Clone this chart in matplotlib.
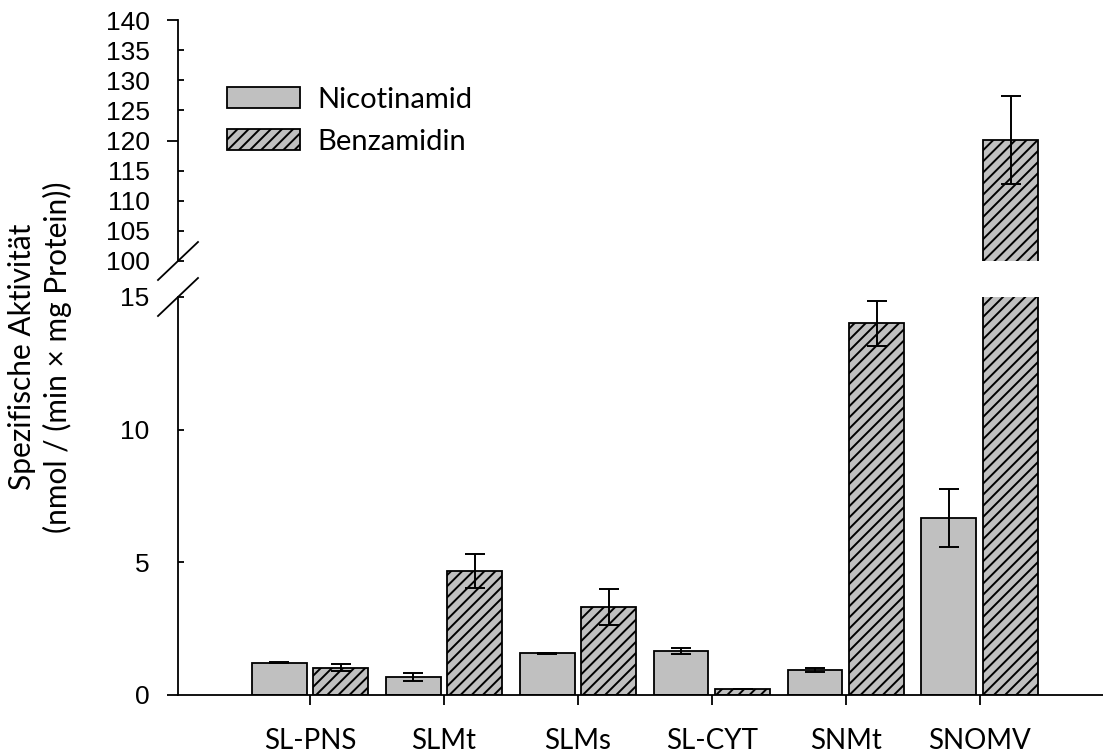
import numpy as np
import matplotlib
matplotlib.use("Agg")
import matplotlib.pyplot as plt
from matplotlib.patches import Patch

# Daten
kategorien = ["SL-PNS", "SLMt", "SLMs", "SL-CYT", "SNMt", "SNOMV"]
nicotinamid = [1.22, 0.69, 1.57, 1.66, 0.94, 6.68]
nicotinamid_err = [0.03, 0.15, 0.03, 0.11, 0.06, 1.10]
benzamidin = [1.02, 4.67, 3.30, 0.23, 14.01, 120.1]
benzamidin_err = [0.13, 0.65, 0.68, 0.0, 0.85, 7.3]

oben_ticks_major = [120, 140]
oben_ticks_minor = [100, 105, 110, 115, 125, 130, 135]
unten_ticks_major = [0]
unten_ticks_minor = [5, 10, 15]

grau = "#c0c0c0"
plt.rcParams["hatch.linewidth"] = 1.4
tick_font = "Liberation Sans"
text_font = "Lato"

fig = plt.figure(figsize=(11.03, 7.55), dpi=100)
W, H = 1103, 755
ax_lo = fig.add_axes([178 / W, 1 - 695 / H, (W - 178) / W, (695 - 297) / H])
ax_hi = fig.add_axes([178 / W, 1 - 261 / H, (W - 178) / W, (261 - 20) / H])

x = np.arange(len(kategorien))
breite = 0.41
versatz = 0.23

for ax in (ax_lo, ax_hi):
    ax.bar(x - versatz, nicotinamid, breite, color=grau, edgecolor="black",
           linewidth=1.3, zorder=2)
    ax.bar(x + versatz, benzamidin, breite, color=grau, edgecolor="black",
           linewidth=1.3, hatch="///", zorder=2)
    ax.errorbar(x - versatz, nicotinamid, yerr=nicotinamid_err, fmt="none",
                ecolor="black", elinewidth=1.4, capsize=7.5, capthick=1.4, zorder=3)
    ax.errorbar(x + versatz, benzamidin, yerr=benzamidin_err, fmt="none",
                ecolor="black", elinewidth=1.4, capsize=7.5, capthick=1.4, zorder=3)
    ax.set_xlim(-0.985, 5.92)
    ax.spines["top"].set_visible(False)
    ax.spines["right"].set_visible(False)
    ax.spines["left"].set_linewidth(1.3)
    ax.spines["bottom"].set_linewidth(1.3)
    ax.patch.set_alpha(0)

ax_lo.set_ylim(0, 15)
ax_hi.set_ylim(100, 140)
ax_hi.spines["bottom"].set_visible(False)
ax_hi.tick_params(axis="x", bottom=False, labelbottom=False)

# y ticks: major nach aussen, minor nach innen, alle beschriftet
for ax, maj, mino in ((ax_lo, unten_ticks_major, unten_ticks_minor),
                      (ax_hi, oben_ticks_major, oben_ticks_minor)):
    ax.set_yticks(maj, [str(v) for v in maj])
    ax.set_yticks(mino, [str(v) for v in mino], minor=True)
    ax.tick_params(axis="y", which="major", direction="out", length=8, width=1.3,
                   pad=12.5, labelsize=19)
    ax.tick_params(axis="y", which="minor", direction="in", length=4.3, width=1.3,
                   pad=20.5, labelsize=19)
    for lab in ax.get_yticklabels(which="both"):
        lab.set_fontfamily(tick_font)

ax_lo.set_xticks(x, kategorien)
ax_lo.tick_params(axis="x", direction="out", length=7.5, width=1.3, pad=16,
                  labelsize=20)
for lab in ax_lo.get_xticklabels():
    lab.set_fontfamily(text_font)

# Achsenbruch-Markierungen
dx = 20 / (W - 178)
dy_hi = 19 / (261 - 20)
dy_lo = 19 / (695 - 297)
ax_hi.plot([-dx, dx], [-dy_hi, dy_hi], transform=ax_hi.transAxes, color="black",
           lw=1.3, clip_on=False)
ax_lo.plot([-dx, dx], [1 - dy_lo, 1 + dy_lo], transform=ax_lo.transAxes,
           color="black", lw=1.3, clip_on=False)

fig.text(40 / W, 1 - 357 / H,
         "Spezifische Aktivität\n(nmol / (min × mg Protein))",
         rotation=90, ha="center", va="center", multialignment="center",
         fontsize=21.5, family=text_font, linespacing=1.3)

handles = [Patch(facecolor=grau, edgecolor="black", linewidth=1.3),
           Patch(facecolor=grau, edgecolor="black", linewidth=1.3, hatch="///")]
fig.legend(handles, ["Nicotinamid", "Benzamidin"], loc="upper left",
           bbox_to_anchor=(227 / W, 1 - 87 / H), frameon=False, borderpad=0,
           borderaxespad=0, prop={"family": text_font, "size": 21},
           handlelength=2.5, handleheight=0.72, handletextpad=0.6,
           labelspacing=0.55)

fig.savefig("out.png", dpi=100)
